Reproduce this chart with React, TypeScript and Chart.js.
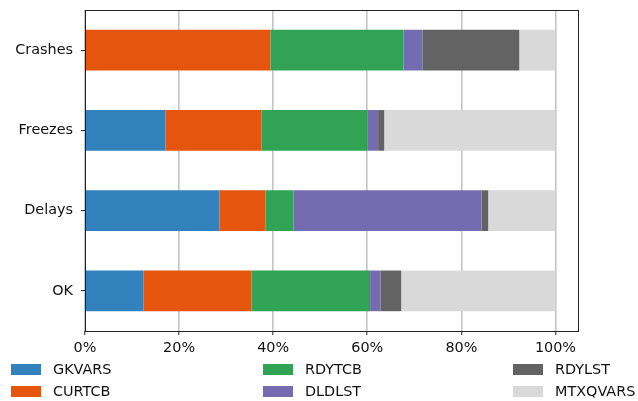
import React, { useEffect, useRef } from "react";
import { Chart, registerables } from "chart.js";

Chart.register(...registerables);

const categories = ["Crashes", "Freezes", "Delays", "OK"];
const seriesNames = ["GKVARS", "CURTCB", "RDYTCB", "DLDLST", "RDYLST", "MTXQVARS"];
const GKVARS = [0, 17.1, 28.6, 12.4];
const CURTCB = [39.4, 20.4, 9.8, 23.0];
const RDYTCB = [28.3, 22.6, 5.9, 25.2];
const DLDLST = [4.0, 2.2, 40.0, 2.2];
const RDYLST = [20.6, 1.3, 1.4, 4.4];
const MTXQVARS = [7.7, 36.4, 14.3, 32.8];
const seriesValues = [GKVARS, CURTCB, RDYTCB, DLDLST, RDYLST, MTXQVARS];
const colors = ["#3182bd", "#e6550d", "#31a354", "#756bb1", "#636363", "#d9d9d9"];
const xTicks = [0, 20, 40, 60, 80, 100];

const FONT = "'DejaVu Sans', sans-serif";
const FSIZE = 14.4;

const framePlugin = {
  id: "frameAndLegend",
  afterDraw(chart: any) {
    const ctx = chart.ctx;
    const a = chart.chartArea;
    ctx.save();
    ctx.strokeStyle = "#222";
    ctx.lineWidth = 1;
    ctx.strokeRect(a.left + 0.5, a.top + 0.5, a.right - a.left - 1, a.bottom - a.top);
    // legend: 3 columns, 2 rows, column-major
    const colX = [11, 263, 513];
    const rowY = [364, 386];
    ctx.font = `${FSIZE}px ${FONT}`;
    ctx.textBaseline = "middle";
    ctx.textAlign = "left";
    chart.data.datasets.forEach((ds: any, i: number) => {
      const col = Math.floor(i / 2);
      const row = i % 2;
      const x = colX[col];
      const y = rowY[row];
      ctx.fillStyle = ds.backgroundColor;
      ctx.fillRect(x, y, 30, 11);
      ctx.fillStyle = "#111";
      ctx.fillText(ds.label, x + 42, y + 6);
    });
    ctx.restore();
  },
};

export default function App() {
  const ref = useRef<HTMLCanvasElement | null>(null);
  useEffect(() => {
    document.body.style.margin = "0";
    const chart = new Chart(ref.current as HTMLCanvasElement, {
      type: "bar",
      data: {
        labels: categories,
        datasets: seriesNames.map((name, i) => ({
          label: name,
          data: seriesValues[i],
          backgroundColor: colors[i],
          borderWidth: 0,
          barPercentage: 0.507,
          categoryPercentage: 1,
        })),
      },
      options: {
        indexAxis: "y",
        responsive: false,
        animation: false,
        layout: { padding: { top: 10, right: 59, left: 0, bottom: 0 } },
        plugins: {
          legend: { display: false },
          tooltip: { enabled: false },
        },
        scales: {
          x: {
            stacked: true,
            min: 0,
            max: 105,
            z: 1,
            afterBuildTicks: (scale: any) => {
              scale.ticks = xTicks.map((v) => ({ value: v }));
            },
            afterFit: (scale: any) => {
              scale.height = 70;
              scale.paddingLeft = 0;
              scale.paddingRight = 0;
            },
            border: { display: false },
            grid: {
              color: "#c4c4c4",
              lineWidth: 1.6,
              tickColor: "#222",
              tickLength: 4,
              tickWidth: 1,
            },
            ticks: {
              color: "#111",
              padding: 5,
              font: { family: FONT, size: FSIZE },
              callback: (v: any) => `${v}%`,
            },
          },
          y: {
            stacked: true,
            offset: true,
            afterFit: (scale: any) => {
              scale.width = 85;
              scale.paddingTop = 0;
              scale.paddingBottom = 0;
            },
            border: { display: false },
            grid: {
              drawOnChartArea: false,
              offset: false,
              tickColor: "#222",
              tickLength: 4,
              tickWidth: 1,
            },
            ticks: {
              color: "#111",
              padding: 8,
              font: { family: FONT, size: FSIZE },
            },
          },
        },
      },
      plugins: [framePlugin],
    } as any);
    return () => chart.destroy();
  }, []);
  return (
    <div style={{ position: "absolute", left: 0, top: 0, width: 638, height: 401 }}>
      <canvas ref={ref} width={638} height={401} />
    </div>
  );
}
